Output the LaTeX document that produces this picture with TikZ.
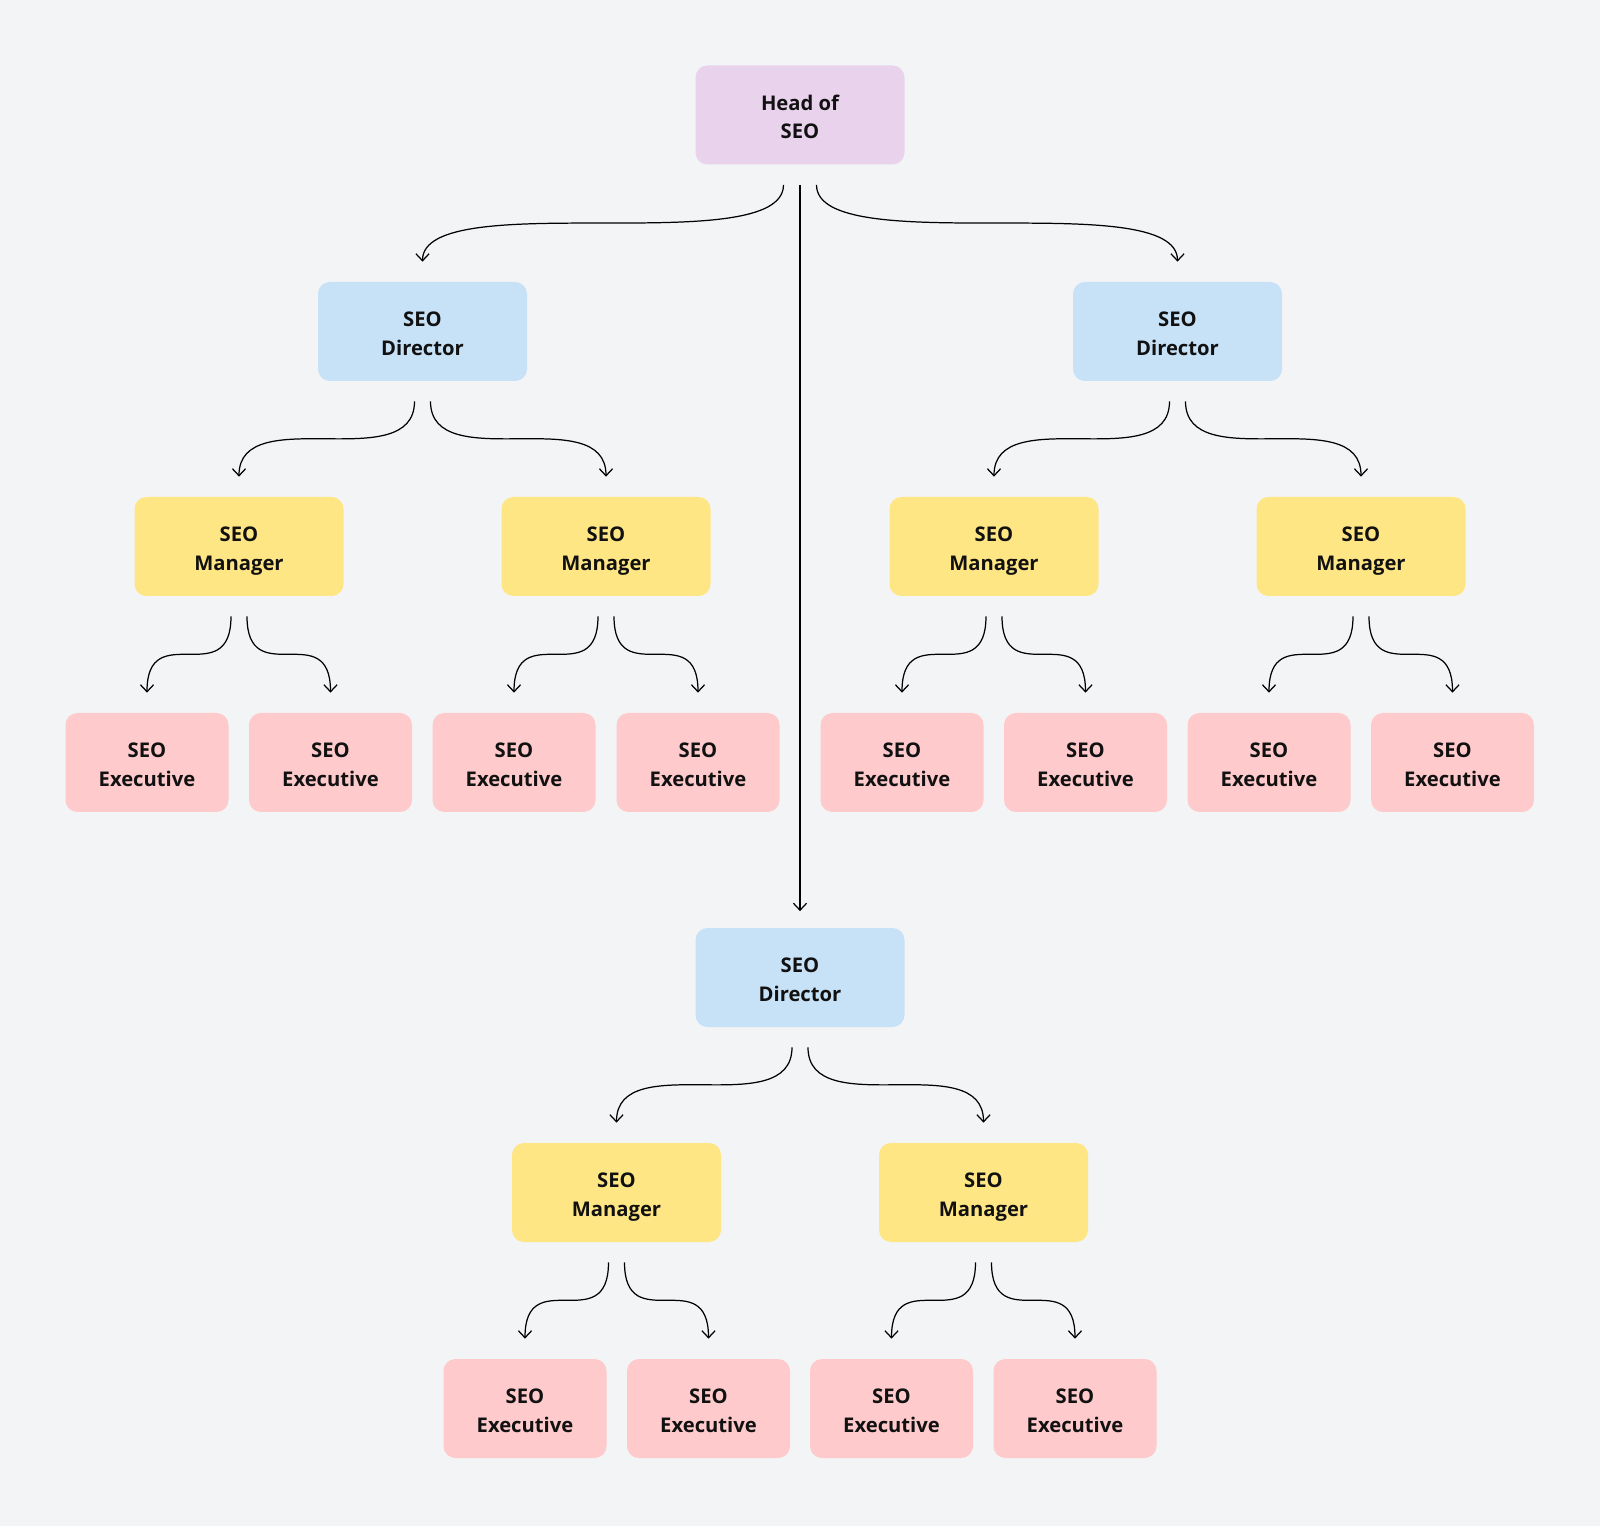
\documentclass[tikz,border=0pt]{standalone}
\usepackage{fontspec}
\setmainfont{Open Sans}
\usepackage{tikz}
\usetikzlibrary{arrows.meta}
\definecolor{BgGray}{HTML}{F3F4F6}
\definecolor{HeadPurple}{HTML}{E9D3EC}
\definecolor{DirBlue}{HTML}{C7E1F7}
\definecolor{MgrYellow}{HTML}{FFE685}
\definecolor{ExecPink}{HTML}{FFCACB}
\definecolor{TextPrimary}{HTML}{111111}

\begin{document}
\begin{tikzpicture}[
  rbox/.style={rectangle, rounded corners=6.8pt, text=TextPrimary, minimum width=4.18cm,
               minimum height=1.98cm, font=\bfseries\fontsize{11.5}{16.1}\selectfont, align=center,
               text height=27pt, text depth=0pt},
  hbox/.style={rbox, fill=HeadPurple},
  dbox/.style={rbox, fill=DirBlue},
  mbox/.style={rbox, fill=MgrYellow},
  ebox/.style={rbox, fill=ExecPink, minimum width=3.26cm},
  arr/.style={-{Straight Barb[length=4pt, width=7.5pt]}, line width=0.7pt, color=black},
]
  % Background
  \fill[BgGray] (0,0) rectangle (32,-30.52);

  % Nodes
  \node[hbox] (head) at (16,-2.3) {Head of\\SEO};
  \node[dbox] (dirL) at (8.45,-6.63) {SEO\\Director};
  \node[dbox] (dirR) at (23.55,-6.63) {SEO\\Director};
  \node[dbox] (dirB) at (16,-19.55) {SEO\\Director};

  \node[mbox] (m1) at (4.78,-10.93) {SEO\\Manager};
  \node[mbox] (m2) at (12.12,-10.93) {SEO\\Manager};
  \node[mbox] (m3) at (19.88,-10.93) {SEO\\Manager};
  \node[mbox] (m4) at (27.22,-10.93) {SEO\\Manager};
  \node[mbox] (m5) at (12.33,-23.85) {SEO\\Manager};
  \node[mbox] (m6) at (19.67,-23.85) {SEO\\Manager};

  \foreach \i/\x in {1/2.94, 2/6.61, 3/10.28, 4/13.96, 5/18.04, 6/21.71, 7/25.38, 8/29.05}
    \node[ebox] (e\i) at (\x,-15.25) {SEO\\Executive};
  \foreach \i/\x in {9/10.5, 10/14.17, 11/17.83, 12/21.5}
    \node[ebox] (e\i) at (\x,-28.17) {SEO\\Executive};

  % Arrows
  \draw[arr] ([xshift=-0.33cm,yshift=-0.4cm]head.south) .. controls +(0,-1.52) and +(0,1.52) .. ([yshift=0.4cm]dirL.north);
  \draw[arr] ([xshift=0.33cm,yshift=-0.4cm]head.south) .. controls +(0,-1.52) and +(0,1.52) .. ([yshift=0.4cm]dirR.north);
  \draw[arr] ([yshift=-0.4cm]head.south) -- ([yshift=0.33cm]dirB.north);

  \foreach \p/\a/\b in {dirL/m1/m2, dirR/m3/m4, dirB/m5/m6, m1/e1/e2, m2/e3/e4, m3/e5/e6,
                        m4/e7/e8, m5/e9/e10, m6/e11/e12} {
    \draw[arr] ([xshift=-0.16cm,yshift=-0.4cm]\p.south) .. controls +(0,-1.52) and +(0,1.52) .. ([yshift=0.4cm]\a.north);
    \draw[arr] ([xshift=0.16cm,yshift=-0.4cm]\p.south) .. controls +(0,-1.52) and +(0,1.52) .. ([yshift=0.4cm]\b.north);
  }
\end{tikzpicture}
\end{document}
